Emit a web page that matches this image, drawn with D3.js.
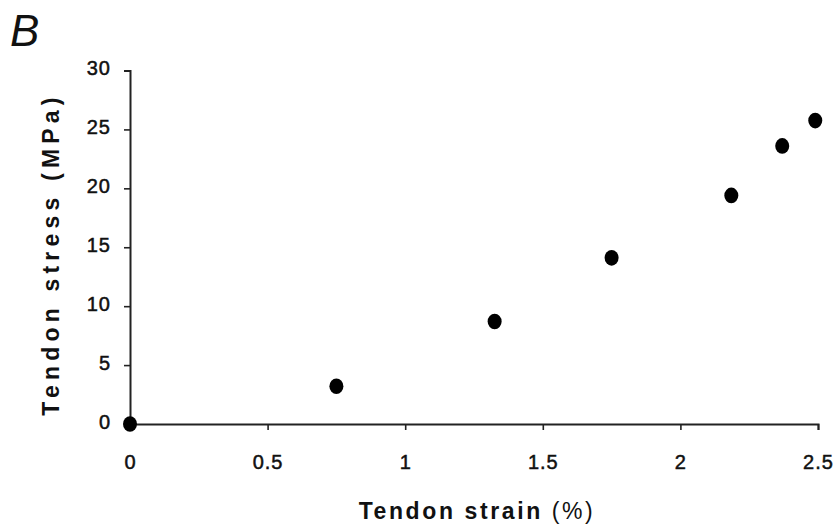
<!DOCTYPE html>
<html>
<head>
<meta charset="utf-8">
<script src="https://cdn.jsdelivr.net/npm/d3@7"></script>
<style>
  body { margin: 0; background: #fff; }
  .tick text { font-family: "Liberation Sans", Arial, sans-serif; font-size: 20px; letter-spacing: 1px; fill: #111; }
  .axisTitle { font-family: "Liberation Sans", Arial, sans-serif; font-weight: bold; font-size: 23px; fill: #111; }
</style>
</head>
<body>
<div id="chart"></div>
<script>
// data
var strain = [0, 0.75, 1.325, 1.75, 2.185, 2.37, 2.49];
var stress = [0, 3.2, 8.7, 14.1, 19.4, 23.6, 25.75];
var xTicks = [0, 0.5, 1, 1.5, 2, 2.5];
var yTicks = [0, 5, 10, 15, 20, 25, 30];

var svgWidth = 835, svgHeight = 526;
var margin = { top: 70.5, right: 17, bottom: 102, left: 130 };
var chart_width = svgWidth - margin.left - margin.right;
var chart_height = svgHeight - margin.top - margin.bottom;

var svg = d3.select("#chart").append("svg")
    .attr("width", svgWidth)
    .attr("height", svgHeight);

var chartGroup = svg.append("g")
    .attr("transform", `translate(${margin.left}, ${margin.top})`);

var xScale = d3.scaleLinear().domain([0, 2.5]).range([0, chart_width]);
var yScale = d3.scaleLinear().domain([0, 30]).range([chart_height, 0]);

var bottomAxis = d3.axisBottom(xScale)
    .tickValues(xTicks)
    .tickFormat(d3.format("~g"))
    .tickSizeOuter(0)
    .tickSize(6)
    .tickPadding(25);

var leftAxis = d3.axisLeft(yScale)
    .tickValues(yTicks)
    .tickSizeOuter(0)
    .tickSize(6)
    .tickPadding(13);

var yAxis = chartGroup.append("g").call(leftAxis);
var xAxis = chartGroup.append("g")
    .attr("transform", `translate(0, ${chart_height})`)
    .call(bottomAxis);

[xAxis, yAxis].forEach(function(ax) {
    ax.select(".domain").attr("stroke", "#222").attr("stroke-width", 2);
    ax.selectAll(".tick line").attr("stroke", "#222").attr("stroke-width", 1.6);
    ax.selectAll(".tick text").attr("stroke", "#111").attr("stroke-width", 0.5);
});
yAxis.selectAll(".tick text").attr("dy", "0.2em");

// points
chartGroup.append("g")
    .selectAll("ellipse")
    .data(strain.map((s, i) => ({ x: s, y: stress[i] })))
    .enter()
    .append("ellipse")
    .attr("cx", d => xScale(d.x))
    .attr("cy", d => yScale(d.y))
    .attr("rx", 7)
    .attr("ry", 7.8)
    .attr("fill", "#000");

// axis titles
var xTitle = svg.append("text")
    .attr("class", "axisTitle")
    .attr("x", 477)
    .attr("y", 519)
    .attr("text-anchor", "middle")
    .attr("letter-spacing", 2.6);
xTitle.append("tspan").text("Tendon strain ");
xTitle.append("tspan").attr("font-weight", "normal").text("(%)");

svg.append("text")
    .attr("class", "axisTitle")
    .attr("transform", "translate(59, 254) rotate(-90)")
    .attr("text-anchor", "middle")
    .attr("font-size", 24)
    .attr("letter-spacing", 5.2)
    .text("Tendon stress (MPa)");

// panel letter
svg.append("text")
    .attr("x", 10)
    .attr("y", 46)
    .attr("font-family", "Liberation Sans, Arial, sans-serif")
    .attr("font-style", "italic")
    .attr("font-size", 44)
    .attr("fill", "#111")
    .text("B");
</script>
</body>
</html>
